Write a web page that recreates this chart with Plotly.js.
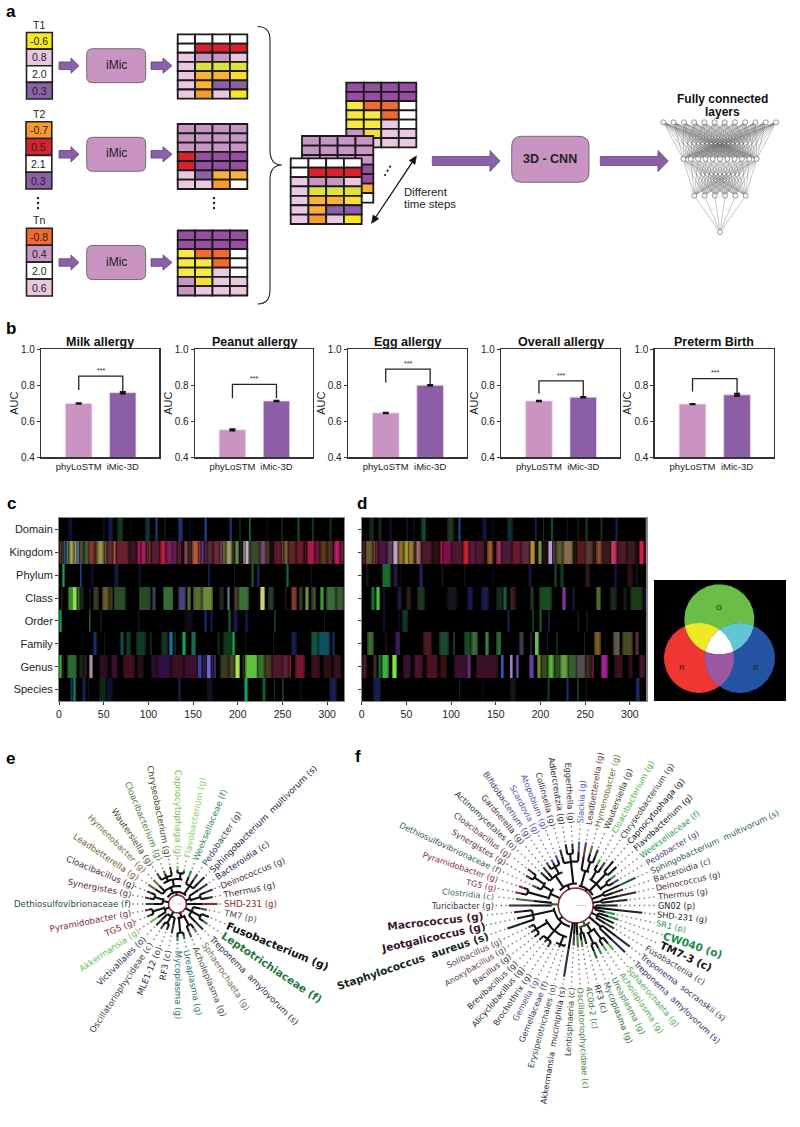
<!DOCTYPE html>
<html><head><meta charset="utf-8">
<script src="https://cdn.plot.ly/plotly-3.0.1.min.js"></script>
<style>html,body{margin:0;padding:0;background:#fff;overflow:hidden}</style></head>
<body><div id="chart" style="width:800px;height:1127px"></div>
<script>
// ---------- panel a data ----------
const pal={W:'#ffffff',L:'#EAC8E1',M:'#C896C3',P:'#8C60A8',D:'#964FA0',R:'#D9222E',O:'#F89A2E',A:'#FBB03B',F:'#F26A2D',Y:'#F9E81E',S:'#F4E945',G:'#DDE23C',T:'#F9DC35'};
const stackLabels=['T1','T2','Tn'];
const stackValues=[['-0.6','0.8','2.0','0.3'],['-0.7','0.5','2.1','0.3'],['-0.8','0.4','2.0','0.6']];
const stackColors=[['Y','L','W','P'],['O','R','W','P'],['F','M','W','L']];
const gridT1=['WWWW','WRRR','LMML','LGGG','LAAT','LAPP','LOLY'];
const gridT2=['MMMM','MMMM','MMMM','RDDD','RDDD','LPAA','LLOW'];
const gridTn=['DDDD','DDDD','SFFW','SSFW','SSLW','MTLL','MLLL'];
const nnLayers=[12,11,6,1];
// ---------- panel b data ----------
const models=['phyLoSTM','iMic-3D'];
const bTitles=['Milk allergy','Peanut allergy','Egg allergy','Overall allergy','Preterm Birth'];
const aucPhyLoSTM=[0.698,0.552,0.646,0.712,0.695];
const aucIMic3D=[0.758,0.712,0.799,0.733,0.746];
const errPhyLoSTM=[0.002,0.004,0.002,0.002,0.001];
const errIMic3D=[0.005,0.002,0.002,0.002,0.006];
const bracketTop=[0.85,0.804,0.889,0.823,0.836];
const bracketLeft=[0.773,0.727,0.815,0.754,0.764];
const bracketRight=[0.767,0.727,0.804,0.74,0.754];
// ---------- panels c, d data: [from, to, colour] runs ----------
const rankNames=['Domain','Kingdom','Phylum','Class','Order','Family','Genus','Species'];
const cDomain=[[10,15,'#0f1030'],[48,52,'#0d0d20'],[55,60,'#101c48'],[65,72,'#0f3a22'],[80,82,'#0c0c1c'],[96,102,'#0c3a40'],[107,111,'#1a3a80'],[118,120,'#0c1a10'],[133,139,'#1f3478'],[145,148,'#0e0e28'],[162,166,'#20387f'],[190,194,'#1f2a70'],[201,204,'#0e3a25'],[212,215,'#0f6a4a'],[232,234,'#0c0c1c'],[248,251,'#0f3a25'],[266,270,'#0d4a30'],[283,285,'#0e3a35'],[302,305,'#0f3020']];
const cKingdom=[[0,3,'#5a3020'],[3,5,'#3a3020'],[5,8,'#38506a'],[8,11,'#4f6b80'],[11,17,'#a6a84a'],[17,20,'#8a9a80'],[20,22,'#5a70a0'],[22,28,'#504a30'],[28,33,'#3a5a35'],[33,40,'#8a3030'],[40,43,'#4a4030'],[43,50,'#98904a'],[50,54,'#5a5a30'],[54,60,'#6a2a3a'],[60,64,'#a85a40'],[64,78,'#6a2030'],[78,87,'#3a1520'],[87,92,'#a01850'],[92,97,'#a0205a'],[97,100,'#5a2540'],[100,103,'#6a3525'],[103,113,'#5a1a30'],[113,120,'#c01840'],[120,127,'#7a2060'],[127,132,'#60204a'],[132,137,'#5a1a2a'],[137,140,'#2a0a12'],[140,144,'#7a4a4a'],[144,149,'#4a2020'],[149,156,'#b05a3a'],[156,159,'#7a3a3a'],[159,162,'#6a30a0'],[162,166,'#4a2030'],[166,172,'#5a2a3a'],[172,180,'#6a2a30'],[180,182,'#6a3a7a'],[182,187,'#6a5a30'],[187,193,'#a0a060'],[193,197,'#3a2a1a'],[197,201,'#5a8a4a'],[201,206,'#1a1a10'],[206,208,'#8a7a8a'],[208,212,'#c0b0c0'],[212,214,'#504040'],[214,225,'#3a4a28'],[225,231,'#7a4a6a'],[231,236,'#4a3020'],[236,240,'#1a0f10'],[240,249,'#5a1a2a'],[249,252,'#6a3a3a'],[252,256,'#7a6030'],[256,265,'#5a2a20'],[265,274,'#6a1a2a'],[274,277,'#3a1a1a'],[277,286,'#a81a4a'],[286,292,'#6a1a40'],[292,300,'#5a3a1a'],[300,306,'#5a3020'],[306,308,'#1a0a10'],[308,314,'#c01a70'],[314,319,'#6a1a3a']];
const cPhylum=[[3,7,'#10a050'],[23,26,'#1f3f90'],[36,39,'#101030'],[62,67,'#101a3a'],[88,92,'#0f1030'],[167,169,'#151f50'],[196,197,'#0c2a18'],[215,218,'#0f5a35'],[221,225,'#151f50'],[254,257,'#0f6a40'],[281,283,'#0c0c20']];
const cClass=[[2,4,'#2a1010'],[10,15,'#3a8a30'],[15,20,'#8ae050'],[20,23,'#3a6a30'],[23,28,'#152515'],[33,36,'#15152a'],[38,45,'#3a3a2a'],[48,56,'#6a5a30'],[56,60,'#3a3a25'],[61,75,'#2a4a28'],[89,103,'#2a4a25'],[104,108,'#3a3a50'],[116,128,'#3a6a38'],[133,142,'#4a4080'],[143,148,'#4a6a3a'],[150,160,'#5a6a30'],[160,172,'#6a8a3a'],[179,185,'#202a20'],[188,191,'#5a7a8a'],[196,200,'#5a3a2a'],[200,212,'#3a7035'],[225,230,'#d0d070'],[234,240,'#2a3a2a'],[253,255,'#2a0f0f'],[260,266,'#8a3a30'],[268,273,'#2a3a20'],[275,280,'#6a8a40'],[282,288,'#3a4a25'],[292,296,'#3a9a40'],[299,310,'#3a6a3a'],[310,319,'#3a5a30']];
const cOrder=[[0,3,'#10a050'],[33,36,'#0f5a40'],[46,48,'#0c1a10'],[88,91,'#101545'],[140,150,'#100c14'],[162,165,'#1a2a70'],[169,172,'#151a45'],[189,192,'#105a35'],[195,200,'#101a50'],[208,211,'#151a50'],[241,243,'#0f4025'],[296,297,'#0c2010']];
const cFamily=[[27,28,'#0c0c14'],[38,42,'#1f2a70'],[50,51,'#0c1a10'],[68,73,'#0f4a50'],[75,80,'#0f3a25'],[86,97,'#0f3a25'],[102,104,'#0c2a18'],[114,122,'#0f3a25'],[123,127,'#1a70a0'],[129,131,'#0f2a18'],[138,142,'#10a050'],[148,153,'#0f6a50'],[177,180,'#0f2a15'],[184,194,'#0f3a20'],[194,197,'#10b050'],[208,209,'#0c1a10'],[239,240,'#0c2010'],[260,266,'#151f50'],[282,290,'#0f5a40'],[290,303,'#0f5060'],[305,309,'#1a2a60']];
const cGenus=[[0,3,'#40b030'],[3,6,'#3a1a1a'],[9,20,'#2a6a30'],[22,28,'#152a15'],[28,31,'#3a1a2a'],[34,38,'#a090a0'],[45,55,'#2a0f1f'],[58,66,'#3a1030'],[72,85,'#3f1020'],[87,95,'#2a0f15'],[103,110,'#2a0f2a'],[110,125,'#2f1040'],[125,140,'#3a1020'],[140,155,'#3a1030'],[155,160,'#3a3aa0'],[160,165,'#2a1a40'],[165,170,'#6a6ad0'],[170,173,'#301a50'],[173,176,'#5a3a90'],[180,190,'#3a3a20'],[190,197,'#4a4a25'],[197,202,'#b0e050'],[205,208,'#2a2a10'],[208,222,'#60c040'],[222,230,'#3a7030'],[230,238,'#4a3a20'],[238,250,'#4a1a2a'],[250,257,'#5a2030'],[257,260,'#8a1a3a'],[264,275,'#7a1530'],[282,292,'#3a1020'],[295,305,'#2a1015'],[307,315,'#3a1020']];
const cSpecies=[[12,16,'#1f2a70'],[16,19,'#0f8a50'],[26,30,'#151f50'],[32,34,'#0c1a10'],[45,53,'#0f2a15'],[53,60,'#101030'],[108,109,'#0c0c20'],[133,136,'#151f50'],[165,172,'#101020'],[207,211,'#10a050'],[227,231,'#0f5a30'],[240,242,'#0f3a25'],[250,252,'#0f4025'],[270,272,'#0c0c20'],[302,311,'#151f50']];
const dDomain=[[8,13,'#0f2a20'],[18,22,'#0f2a15'],[30,33,'#101030'],[49,52,'#101030'],[57,59,'#0c0c20'],[66,72,'#0f4a30'],[95,103,'#1a3a20'],[107,111,'#0f4a80'],[134,140,'#151540'],[145,148,'#101030'],[162,169,'#0f3030'],[193,196,'#201a50'],[202,204,'#0f3a20'],[211,214,'#0f8050'],[228,230,'#0c0c20'],[241,243,'#0c1a10'],[250,253,'#0f3a25'],[266,270,'#1a2a10'],[283,286,'#151f50'],[316,318,'#1a3a20']];
const dKingdom=[[0,4,'#4a1a20'],[4,12,'#6a5a30'],[12,15,'#6a4a30'],[15,18,'#7a1a30'],[18,28,'#4a1545'],[28,35,'#5a3a5a'],[35,40,'#c0a0c0'],[40,47,'#8a7030'],[47,52,'#a09030'],[52,58,'#a07a30'],[58,60,'#3a2a20'],[60,66,'#a06a6a'],[66,78,'#4a1a2a'],[78,87,'#2a0f15'],[87,90,'#b02030'],[90,100,'#7a1050'],[100,113,'#4a1a2a'],[113,120,'#d02030'],[120,127,'#5a1a3a'],[127,137,'#4a1a2a'],[137,140,'#1a0a10'],[140,146,'#a05a20'],[146,150,'#1a0a10'],[150,156,'#a03050'],[156,168,'#4a1a3a'],[168,178,'#6a1a30'],[178,188,'#5a2a40'],[188,193,'#b09030'],[193,197,'#1a1010'],[197,201,'#7a8a4a'],[201,208,'#1a1010'],[208,213,'#b0a0d0'],[213,217,'#503040'],[217,225,'#5a5a30'],[225,236,'#8a6a4a'],[236,240,'#1a1a10'],[240,250,'#5a1a20'],[250,258,'#5a3a30'],[258,262,'#3a1a10'],[262,268,'#8a4a30'],[268,278,'#3a1a20'],[278,285,'#c03a5a'],[285,296,'#4a1a2a'],[296,306,'#3a1a20'],[306,310,'#1a0a10'],[310,315,'#d02040'],[315,319,'#4a0a20']];
const dPhylum=[[4,8,'#15101a'],[22,32,'#1a6a30'],[35,40,'#1a1a40'],[43,44,'#0c0c1c'],[64,68,'#2a1a5a'],[88,92,'#1a0f15'],[114,116,'#1a0a10'],[145,148,'#0c0c1c'],[186,190,'#151030'],[215,218,'#0f4a25'],[222,226,'#0f3a20'],[250,255,'#2a1a15'],[282,285,'#151540'],[296,303,'#2a1015'],[306,309,'#151030']];
const dClass=[[10,14,'#1a6a30'],[16,20,'#40c040'],[24,26,'#0c1a10'],[39,45,'#1a1a3a'],[49,55,'#3a1a1a'],[62,70,'#1a3a1a'],[95,106,'#151520'],[118,124,'#1a1a50'],[133,142,'#1a1a50'],[150,158,'#1a2a20'],[158,162,'#1a5a40'],[165,172,'#3a1a1a'],[188,192,'#1a3a18'],[198,212,'#1a4a20'],[224,228,'#8a30a0'],[235,238,'#151530'],[262,267,'#4a6a30'],[277,285,'#1a2a1a'],[292,296,'#121a12'],[300,314,'#1a3a18'],[315,318,'#151540']];
const dOrder=[[24,26,'#15152a'],[40,43,'#0c0c1c'],[45,51,'#0f3a2a'],[89,90,'#0c0c1c'],[162,165,'#151f50'],[190,192,'#0f4025'],[198,201,'#0f5a30'],[208,210,'#151f50'],[241,243,'#0c1a10'],[251,253,'#0c1a10']];
const dFamily=[[6,13,'#3a6a30'],[26,28,'#1a0f15'],[37,43,'#3a1a5a'],[68,78,'#4a1a20'],[86,97,'#1a4a30'],[102,104,'#1a3a20'],[114,122,'#1a4a25'],[122,130,'#3a6a3a'],[138,142,'#3a7a3a'],[150,156,'#2a6a30'],[176,181,'#3a3a4a'],[188,190,'#1a2a1a'],[193,198,'#60c050'],[207,208,'#1a1a2a'],[217,219,'#1a2a1a'],[248,250,'#3a1a20'],[260,267,'#7a5a20'],[281,289,'#5a5a4a'],[291,303,'#4a4a20'],[305,310,'#5a2a3a']];
const dGenus=[[0,6,'#4a1a20'],[12,17,'#3a2a18'],[18,22,'#1a5a2a'],[22,30,'#3ab040'],[34,39,'#80e040'],[46,55,'#3a1030'],[58,68,'#4a1030'],[72,85,'#4a1025'],[87,95,'#3a1015'],[103,118,'#3a1030'],[118,122,'#6a2a80'],[127,152,'#3a1025'],[155,159,'#3a50c0'],[165,169,'#a080c0'],[172,176,'#7050b0'],[187,192,'#6a3aa0'],[196,200,'#6a8a30'],[200,208,'#3a4a20'],[208,215,'#60b040'],[215,222,'#2a4a20'],[222,230,'#60a040'],[230,240,'#3a5a30'],[240,250,'#5a4a50'],[250,256,'#3a3020'],[256,260,'#5a1a30'],[267,275,'#a02090'],[282,292,'#3a1020'],[298,303,'#2a1015'],[310,316,'#4a1530']];
const dSpecies=[[12,21,'#151f50'],[33,34,'#0c0c1c'],[108,110,'#151f50'],[134,135,'#0c0c1c'],[165,172,'#0f1a10'],[207,210,'#0f3a25'],[228,231,'#1a2a70'],[241,243,'#0f4025'],[251,252,'#0c2010'],[306,311,'#1a2a60']];
const cRows=[cDomain,cKingdom,cPhylum,cClass,cOrder,cFamily,cGenus,cSpecies];
const dRows=[dDomain,dKingdom,dPhylum,dClass,dOrder,dFamily,dGenus,dSpecies];
const vennNames=['R','G','B'];
const vennColors=['#EE3632','#6ABD45','#2454A3'];
// ---------- panel e data ----------
const eLabels=['SHD-231 (g)','TM7 (p)','Fusobacterium (g)','Leptotrichiaceae (f)','Treponema\u00a0\u00a0amylovorum (s)','Sphaerochaeta (g)','Acholeplasma (g)','Ureaplasma (g)','Mycoplasma (g)','RF3 (c)','MLE1-12 (o)','Oscillatoriophycideae (c)','Victivallales (o)','Akkermansia (g)','TG5 (g)','Pyramidobacter (g)','Dethiosulfovibrionaceae (f)','Synergistes (g)','Cloacibacillus (g)','Leadbetterella (g)','Hymenobacter (g)','Wautersiella (g)','Cloacibacterium (g)','Chryseobacterium (g)','Capnocytophaga (g)','Flavobacterium (g)','Weeksellaceae (f)','Pedobacter (g)','Sphingobacterium\u00a0\u00a0multivorum (s)','Bacteroidia (c)','Deinococcus (g)','Thermus (g)'];
const eColors=['#8a2a2a','#5a4a4a','#111111','#1f7a3f','#2a2a3a','#7a6a50','#4a4a3a','#2a7a6a','#1f7a6a','#333333','#2a2a3a','#3a4a3a','#2a2a50','#6ac050','#7a2a2a','#7a2a3a','#2a4a3a','#5a2a3a','#4a2a3a','#7a5a30','#7a6a40','#3a4a2a','#4a7a30','#3a4a2a','#7ac050','#90d060','#3a8a5a','#3a4a5a','#222240','#2a2a50','#4a2a3a','#3a2a2a'];
const eBold=[2,3];
const eTipOut=[40,30,34,36,36,34,36,36,37,30,28,30,30,33,33,33,32,33,33,35,34,37,36,38,38,36,36,36,38,36,38,36];
const eClades=[[1,4,16],[2,3,26],[5,8,14],[5,6,24],[7,8,29],[9,12,14],[10,11,22],[13,15,14],[14,15,26],[16,18,15],[17,18,24],[19,28,12],[19,25,18],[21,25,25],[21,23,29],[24,25,31],[26,28,22],[29,31,14],[30,31,24]];
// ---------- panel f data ----------
const fLabels=['GN02 (p)','SHD-231 (g)','SR1 (p)','CW040 (o)','TM7-3 (c)','Fusobacteriia (c)','Treponema\u00a0\u00a0socranskii (s)','Treponema\u00a0\u00a0amylovorum (s)','Sphaerochaeta (g)','Acholeplasma (g)','Ureaplasma (g)','Mycoplasma (g)','RF3 (c)','4C0d-2 (c)','Oscillatoriophycideae (c)','Lentisphaeria (c)','Akkermansia\u00a0\u00a0muciniphila (s)','Erysipelotrichales (o)','Gemellaceae (f)','Gemella (g)','Brochothrix (g)','Alicyclobacillus (g)','Brevibacillus (g)','Bacillus (g)','Anoxybacillus (g)','Solibacillus (g)','Staphylococcus\u00a0\u00a0aureus (s)','Jeotgalicoccus (g)','Macrococcus (g)','Turicibacter (g)','Clostridia (c)','TG5 (g)','Pyramidobacter (g)','Dethiosulfovibrionaceae (f)','Synergistes (g)','Cloacibacillus (g)','Actinomycetales (o)','Gardnerella (g)','Bifidobacterium (g)','Scardovia (g)','Atopobium (g)','Collinsella (g)','Adlercreutzia (g)','Eggerthella (g)','Slackia (g)','Leadbetterella (g)','Hymenobacter (g)','Wautersiella (g)','Cloacibacterium (g)','Chryseobacterium (g)','Capnocytophaga (g)','Flavobacterium (g)','Weeksellaceae (f)','Pedobacter (g)','Sphingobacterium\u00a0\u00a0multivorum (s)','Bacteroidia (c)','Deinococcus (g)','Thermus (g)'];
const fColors=['#222222','#222222','#2f8f55','#1a8a4a','#111111','#3a3a3a','#2a2a50','#2a2a60','#4ab04a','#4ab04a','#3a8a4a','#2a6a3a','#222222','#4a7a3a','#4a7a3a','#3a4a3a','#2a2a40','#2a4a4a','#3a3a60','#6a4a90','#3a2a3a','#2a2a30','#2a2a30','#3a2a3a','#5a3a4a','#5a3a4a','#112a1a','#3a1030','#3a1a30','#4a2a4a','#3a6a4a','#8a2a4a','#8a2a4a','#2a5a40','#5a2a3a','#5a2a3a','#1a3a2a','#4a2a3a','#4a3a7a','#5a4ab0','#4a4ab0','#3a2a3a','#2a1a2a','#3a2a3a','#4a5ab0','#6a3a3a','#6a6a30','#3a3a2a','#50b040','#4a3a3a','#111111','#111111','#2a9a50','#4a3a7a','#1f5a50','#3a3a2a','#3a2a2a','#3a2a2a'];
const fBold=[3,4,26,27,28];
const fTipOut=[42,67,40,45,42,45,68,68,58,55,55,57,40,42,42,40,72,40,45,42,50,48,50,52,52,52,72,60,62,67,60,62,60,48,58,60,48,50,52,52,54,58,62,62,64,64,62,60,52,52,58,56,50,50,66,50,62,52];
const fClades=[[0,2,20],[3,5,24],[6,7,33],[8,13,22,'#2a5a2a'],[8,11,30],[8,9,42],[10,11,42],[12,13,28],[17,28,22],[17,25,33],[17,19,42],[20,22,44],[23,25,46],[26,28,44],[29,30,24,'#3a5a30'],[31,35,28],[31,32,50],[33,35,38],[34,35,50],[36,44,22],[36,40,36],[38,40,44],[41,44,44],[42,43,52],[45,53,20],[45,47,36],[46,47,46],[48,53,30],[48,49,40],[50,51,44],[52,53,38],[54,55,30],[56,57,26]];

// ---------- helpers ----------
const traces=[],shapes=[],annos=[];
const FONT='"Liberation Sans", Arial, sans-serif';
const TREEFONT='"DejaVu Sans", sans-serif';
function txt(x,y,t,size,opt){opt=opt||{};annos.push(Object.assign({xref:'x',yref:'y',x:x,y:y,text:t,showarrow:false,xanchor:'center',yanchor:'middle',font:{family:FONT,size:size,color:opt.color||'#111'}},opt.extra||{}));}
function rect(x0,y0,x1,y1,fill,lc,lw){shapes.push({type:'rect',xref:'x',yref:'y',x0,y0,x1,y1,fillcolor:fill,line:{color:lc||'#111',width:lw==null?1.2:lw}});}
function path(d,fill,lc,lw){shapes.push({type:'path',xref:'x',yref:'y',path:d,fillcolor:fill||'rgba(0,0,0,0)',line:{color:lc||'#111',width:lw==null?1:lw}});}
function rrect(x0,y0,x1,y1,r,fill,lc,lw){path(`M${x0+r} ${y0}L${x1-r} ${y0}Q${x1} ${y0} ${x1} ${y0+r}L${x1} ${y1-r}Q${x1} ${y1} ${x1-r} ${y1}L${x0+r} ${y1}Q${x0} ${y1} ${x0} ${y1-r}L${x0} ${y0+r}Q${x0} ${y0} ${x0+r} ${y0}Z`,fill,lc,lw);}
function blockArrow(x0,x1,cy,hs,hh,neck){path(`M${x0} ${cy-hs}L${neck} ${cy-hs}L${neck} ${cy-hh}L${x1} ${cy}L${neck} ${cy+hh}L${neck} ${cy+hs}L${x0} ${cy+hs}Z`,'#8C60A8','#4c3a6e',0.7);}
function grid(x0,y0,x1,y1,rows){const n=rows.length,m=rows[0].length,w=(x1-x0)/m,h=(y1-y0)/n;
 rows.forEach((row,i)=>{[...row].forEach((c,j)=>rect(x0+j*w,y0+i*h,x0+(j+1)*w,y0+(i+1)*h,pal[c],'#1a1a1a',1.8));});}
function vDots(x,y){traces.push({type:'scatter',mode:'markers',x:[x,x,x],y:[y-5,y,y+5],marker:{size:2.4,color:'#222'},hoverinfo:'skip',showlegend:false});}

// ---------- panel a ----------
const rowsY=[[32.5,99,65.7],[121.7,189,154.3],[228.3,296,262.5]];
const stackX=[[26.5,52.3],[26,51.8],[26.5,52.3]];
const gridY=[[34.4,98.7],[124,189],[230.5,295.5]];
const grids=[gridT1,gridT2,gridTn];
stackLabels.forEach((lab,k)=>{
  const [y0,y1,cy]=rowsY[k],[xa,xb]=stackX[k],h=(y1-y0)/4;
  txt((xa+xb)/2,y0-8,lab,10.5,{color:'#222'});
  stackValues[k].forEach((v,i)=>{rect(xa,y0+i*h,xb,y0+(i+1)*h,pal[stackColors[k][i]],'#222',1.6);txt((xa+xb)/2,y0+(i+.5)*h,v,10.5,{color:'#222'});});
  blockArrow(59,79,cy,3.8,7.6,71);
  rrect(86.7,cy-17,145.7,cy+17,6,'#C994C1','#555',0.8);
  txt(116,cy-1,'iMic',12,{color:'#222'});
  blockArrow(151,172,cy,3.8,7.6,163);
  grid(177.7,gridY[k][0],247.3,gridY[k][1],grids[k]);
});
vDots(38,203);vDots(214,203);
path('M257.5 26.5Q270 26.5 270 40L270 150Q270 165 282 165Q270 165 270 180L270 290Q270 304 257.5 304','rgba(0,0,0,0)','#222',1.1);
grid(346.3,82.7,416.3,147.3,gridTn);
grid(302,136,373.3,202.7,gridT2);
grid(290.7,158.3,361.7,224,gridT1);
// diagonal double arrow
(function(){const ax=416.5,ay=155.8,bx=371.5,by=223.5,d=Math.hypot(ax-bx,ay-by),ux=(ax-bx)/d,uy=(ay-by)/d,nx=-uy,ny=ux;
 path(`M${ax-ux*6} ${ay-uy*6}L${bx+ux*6} ${by+uy*6}`,null,'#111',1.3);
 path(`M${ax} ${ay}L${ax-ux*8+nx*3.5} ${ay-uy*8+ny*3.5}L${ax-ux*8-nx*3.5} ${ay-uy*8-ny*3.5}Z`,'#111','#111',0.5);
 path(`M${bx} ${by}L${bx+ux*8+nx*3.5} ${by+uy*8+ny*3.5}L${bx+ux*8-nx*3.5} ${by+uy*8-ny*3.5}Z`,'#111','#111',0.5);})();
traces.push({type:'scatter',mode:'markers',x:[390,387.6,385],y:[166.7,170.7,175],marker:{size:2.2,color:'#222'},hoverinfo:'skip',showlegend:false});
[['Different',191.7],['time steps',203.7]].forEach(l=>annos.push({xref:'x',yref:'y',x:402,y:l[1],text:l[0],showarrow:false,xanchor:'left',yanchor:'middle',font:{family:FONT,size:11.4,color:'#222'}}));
blockArrow(432.3,500,161,4.5,10.5,490);
rrect(511.7,136.3,589,182.3,10,'#C994C1','#555',0.8);
txt(550,158.5,'<b>3D - CNN</b>',12.5,{color:'#222'});
blockArrow(600.3,668.3,161,4.5,10.5,658);
txt(722,98.5,'<b>Fully connected</b>',12,{color:'#111'});
txt(722,112.3,'<b>layers</b>',12,{color:'#111'});
// neural network
(function(){const spans=[[663.3,776],[683.3,756.7],[694.3,745.7],[720,720]],ys=[122.3,159,195.7,232.3];
 const pos=nnLayers.map((n,l)=>Array.from({length:n},(_,i)=>n>1?spans[l][0]+i*(spans[l][1]-spans[l][0])/(n-1):spans[l][0]));
 const ex=[],ey=[];
 for(let l=0;l<3;l++)pos[l].forEach(a=>pos[l+1].forEach(b=>{ex.push(a,b,null);ey.push(ys[l],ys[l+1],null);}));
 traces.push({type:'scatter',mode:'lines',x:ex,y:ey,line:{color:'rgba(80,80,80,0.55)',width:0.6},hoverinfo:'skip',showlegend:false});
 pos.forEach((p,l)=>traces.push({type:'scatter',mode:'markers',x:p,y:p.map(()=>ys[l]),marker:{size:5,color:'#fff',line:{color:'#777',width:0.8}},hoverinfo:'skip',showlegend:false}));})();

// ---------- venn ----------
(function(){
 const vx0=654,vx1=786,vy0=580,vy1=701;
 traces.push({type:'scatter',mode:'lines',x:[vx0,vx1,vx1,vx0,vx0],y:[vy0,vy0,vy1,vy1,vy0],fill:'toself',fillcolor:'#000',line:{color:'#000',width:0},hoverinfo:'skip',showlegend:false});
 const cs=[[699,658,35],[719.3,619.3,35],[740,658,35]];
 const inC=(p,c)=>Math.hypot(p[0]-c[0],p[1]-c[1])<=c[2]+1e-6;
 function region(list,color){let pts=[];list.forEach((c,i)=>{for(let a=0;a<360;a+=1.5){const p=[c[0]+c[2]*Math.cos(a*Math.PI/180),c[1]+c[2]*Math.sin(a*Math.PI/180)];if(list.every((o,j)=>j===i||inC(p,o)))pts.push(p);}});
  const mx=pts.reduce((s,p)=>s+p[0],0)/pts.length,my=pts.reduce((s,p)=>s+p[1],0)/pts.length;
  pts.sort((p,q)=>Math.atan2(p[1]-my,p[0]-mx)-Math.atan2(q[1]-my,q[0]-mx));pts.push(pts[0]);
  traces.push({type:'scatter',mode:'lines',x:pts.map(p=>p[0]),y:pts.map(p=>p[1]),fill:'toself',fillcolor:color,line:{color:color,width:0},hoverinfo:'skip',showlegend:false});}
 cs.forEach((c,i)=>region([c],vennColors[i]));
 region([cs[0],cs[1]],'#EFE824');region([cs[1],cs[2]],'#62C5D6');region([cs[0],cs[2]],'#9C57A2');region(cs,'#ffffff');
 const lp=[[682,667],[719,607],[755,667]];
 vennNames.forEach((n,i)=>txt(lp[i][0],lp[i][1],n,8,{color:'#222'}));
})();

// ---------- trees ----------
const measure=document.createElement('canvas').getContext('2d');
function drawTree(cx,cy,rc,r0,labels,colors,bold,tipOut,clades,labelSize,boldSize,boldOffset){
 const N=labels.length,ang=i=>i*2*Math.PI/N,P=(r,a)=>[cx+r*Math.cos(a),cy+r*Math.sin(a)];
 const groups={};
 const seg=(col,pts)=>{const g=groups[col]||(groups[col]={x:[],y:[]});pts.forEach(p=>{g.x.push(p[0]);g.y.push(p[1]);});g.x.push(null);g.y.push(null);};
 const circ=[];for(let a=0;a<=360;a+=4)circ.push(P(rc,a*Math.PI/180));
 traces.push({type:'scatter',mode:'lines',x:circ.map(p=>p[0]),y:circ.map(p=>p[1]),line:{color:'#8a2a3a',width:1.6},hoverinfo:'skip',showlegend:false});
 traces.push({type:'scatter',mode:'lines',x:[cx,cx+rc*0.6],y:[cy,cy],line:{color:'#aaa',width:0.6},hoverinfo:'skip',showlegend:false});
 const dotx=[],doty=[];
 clades.forEach(cl=>{const [a,b,r,col]=cl;let pr=rc;clades.forEach(o=>{if(o!==cl&&o[0]<=a&&o[1]>=b&&o[2]<r&&o[2]>pr)pr=o[2];});
  const m=(ang(a)+ang(b))/2,c=col||'#111111',arc=[];
  for(let t=0;t<=16;t++)arc.push(P(r,ang(a)+(ang(b)-ang(a))*t/16));
  seg(c,arc);seg(c,[P(pr,m),P(r,m)]);});
 labels.forEach((lab,i)=>{let pr=rc;clades.forEach(o=>{if(o[0]<=i&&o[1]>=i&&o[2]>pr)pr=o[2];});
  const a=ang(i),out=tipOut[i],split=pr+0.5*(out-pr);
  seg('#111111',[P(pr,a),P(split,a)]);seg(colors[i],[P(split,a),P(out,a)]);
  const isB=bold.includes(i),size=isB?boldSize:labelSize,weight=isB?'bold ':'',rs=r0+(isB?boldOffset:0);
  const d0=P(out+2,a),d1=P(rs-1,a);dotx.push(d0[0],d1[0],null);doty.push(d0[1],d1[1],null);
  measure.font=`${weight}${size}px "DejaVu Sans"`;const w=measure.measureText(lab).width;
  const c=P(rs+w/2,a);let deg=i*360/N;const ta=(deg>90&&deg<=270)?deg-180:(deg>270?deg-360:deg);
  annos.push({xref:'x',yref:'y',x:c[0],y:c[1],text:isB?`<b>${lab}</b>`:lab,textangle:ta,showarrow:false,xanchor:'center',yanchor:'middle',font:{family:TREEFONT,size:size,color:colors[i]}});
 });
 traces.push({type:'scatter',mode:'lines',x:dotx,y:doty,line:{color:'#777',width:1.4,dash:'1.4px,3.4px'},hoverinfo:'skip',showlegend:false});
 Object.keys(groups).forEach(col=>traces.push({type:'scatter',mode:'lines',x:groups[col].x,y:groups[col].y,line:{color:col,width:2.1},hoverinfo:'skip',showlegend:false}));
}
drawTree(177.5,904,9,47,eLabels,eColors,eBold,eTipOut,eClades,8.6,10.6,7);
drawTree(575.7,905.5,17.5,82,fLabels,fColors,fBold,fTipOut,fClades,8.2,10.5,11);

// panel letters
[['a',11,11],['b',11,328],['c',11,503],['d',362,503],['e',10,758],['f',358,756]].forEach(l=>txt(l[1],l[2],'<b>'+l[0]+'</b>',17,{color:'#000'}));

// ---------- layout ----------
const W=800,H=1127;
const layout={width:W,height:H,margin:{l:0,r:0,t:0,b:0},paper_bgcolor:'#fff',plot_bgcolor:'rgba(0,0,0,0)',showlegend:false,
 font:{family:FONT,color:'#222'},
 xaxis:{domain:[0,1],range:[0,W],visible:false,fixedrange:true},
 yaxis:{domain:[0,1],range:[H,0],visible:false,fixedrange:true},
 shapes:shapes,annotations:annos,hovermode:false};
const bX=[[41.3,159.3],[195,313],[348,467],[501.3,620],[654.7,774]];
const yDom=(t,b)=>[1-b/H,1-t/H];
bTitles.forEach((title,k)=>{
 const n=k+2,xa='x'+n,ya='y'+n;
 layout['xaxis'+n]={anchor:ya,domain:[bX[k][0]/W,bX[k][1]/W],type:'category',categoryorder:'array',categoryarray:models,range:[-0.85,1.83],showline:true,mirror:true,linecolor:'#333',linewidth:1.4,ticks:'outside',ticklen:0,tickfont:{size:9.5,family:FONT,color:'#222'},showgrid:false,zeroline:false,fixedrange:true};
 layout['yaxis'+n]={anchor:xa,domain:yDom(349,457.3),range:[0.4,1.0],tickvals:[0.4,0.6,0.8,1.0],ticktext:['0.4','0.6','0.8','1.0'],showline:true,mirror:true,linecolor:'#333',linewidth:1.4,ticks:'outside',ticklen:3,tickwidth:1,tickcolor:'#333',tickfont:{size:10,family:FONT,color:'#222'},showgrid:false,zeroline:false,fixedrange:true,title:{text:'AUC',standoff:0,font:{size:11,family:FONT,color:'#222'}}};
 traces.push({type:'bar',xaxis:xa,yaxis:ya,x:models,y:[aucPhyLoSTM[k],aucIMic3D[k]],width:0.6,marker:{color:['#C994C1','#8B5EA5'],line:{color:'#EAD4E8',width:0.8}},
  error_y:{type:'data',array:[errPhyLoSTM[k],errIMic3D[k]],color:'#111',thickness:1.8,width:3},hoverinfo:'skip',showlegend:false});
 traces.push({type:'scatter',mode:'lines',xaxis:xa,yaxis:ya,x:[models[0],models[0],models[1],models[1]],y:[bracketLeft[k],bracketTop[k],bracketTop[k],bracketRight[k]],line:{color:'#222',width:1.3},hoverinfo:'skip',showlegend:false});
 annos.push({xref:xa,yref:ya,x:0.5,y:bracketTop[k]+0.012,text:'***',showarrow:false,xanchor:'center',yanchor:'bottom',yshift:-2,font:{size:7,family:FONT,color:'#222'}});
 annos.push({xref:xa+' domain',yref:'paper',x:0.5,y:1-342/H,text:'<b>'+title+'</b>',showarrow:false,xanchor:'center',yanchor:'middle',font:{size:12.5,family:FONT,color:'#111'}});
});
function hexRgb(h){return [parseInt(h.slice(1,3),16),parseInt(h.slice(3,5),16),parseInt(h.slice(5,7),16)];}
// each stripe is drawn with dimmed edge columns: the reference strips are soft-edged
function toImage(rows){return rows.map(runs=>{const r=Array.from({length:319},()=>[0,0,0]);runs.forEach(([a,b,c])=>{const rgb=hexRgb(c);const len=b-a;for(let x=a;x<b&&x<319;x++){const edge=Math.min(x-a,b-1-x);const f=len<3?0.9:(edge===0?0.62:(edge===1&&len>5?0.85:1));r[x]=rgb.map(v=>Math.round(v*f));}});return r;});}
[[cRows,59,344,7],[dRows,361.7,646.7,8]].forEach(([rows,x0,x1,n],k)=>{
 traces.push({type:'image',xaxis:'x'+n,yaxis:'y'+n,z:toImage(rows),colormodel:'rgb',x0:0.5,dx:1,y0:0.5,dy:1,hoverinfo:'skip'});
 layout['xaxis'+n]={anchor:'y'+n,domain:[x0/W,x1/W],range:[0,318.8],tickvals:[0,50,100,150,200,250,300],ticks:'outside',ticklen:3,tickcolor:'#333',tickfont:{size:10.5,family:FONT,color:'#222'},showgrid:false,zeroline:false,showline:true,mirror:true,linecolor:'#888',linewidth:1,fixedrange:true};
 layout['yaxis'+n]={anchor:'x'+n,domain:yDom(518,701),range:[8,0],scaleanchor:false,constrain:'range',tickvals:[0.5,1.5,2.5,3.5,4.5,5.5,6.5,7.5],ticktext:rankNames,showticklabels:k===0,ticks:'outside',ticklen:3,tickcolor:'#333',tickfont:{size:11,family:FONT,color:'#222'},showgrid:false,zeroline:false,showline:true,mirror:true,linecolor:'#888',linewidth:1,fixedrange:true};
});
Plotly.newPlot('chart',traces,layout,{staticPlot:true,displayModeBar:false});
</script></body></html>
